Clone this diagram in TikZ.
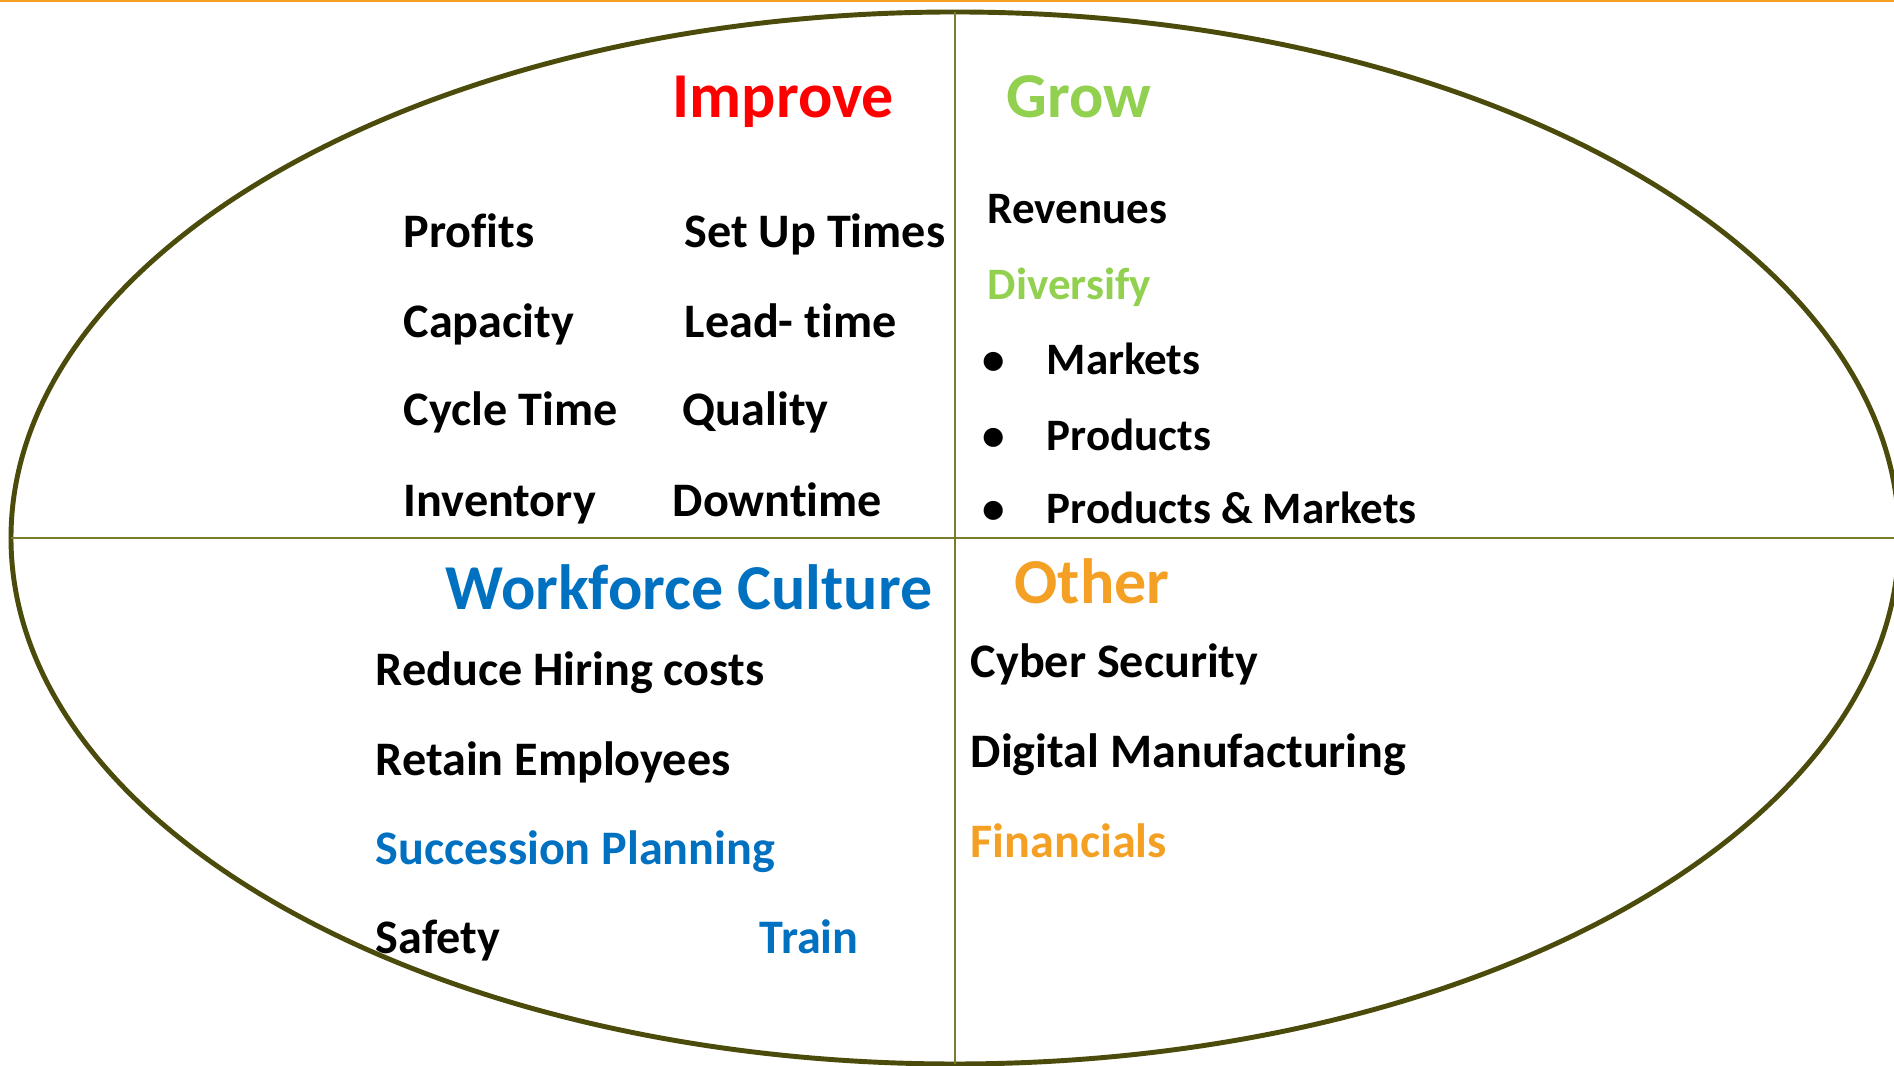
\documentclass[tikz,border=0pt]{standalone}
\usepackage{fontspec}
\setmainfont{Carlito}[Ligatures={NoCommon,NoContextual,NoRequired}]
\usetikzlibrary{shapes.geometric}

\definecolor{olivedark}{HTML}{4B4B0B}
\definecolor{oliveline}{HTML}{7B7B2E}
\definecolor{improvered}{HTML}{FF0000}
\definecolor{growgreen}{HTML}{92D050}
\definecolor{cultureblue}{HTML}{0070C0}
\definecolor{otherorange}{HTML}{F4A024}

\tikzset{
    heading/.style={font=\fontsize{18.2}{22}\selectfont\bfseries, anchor=base west, inner sep=0pt},
    entry/.style={font=\fontsize{13.7}{16}\selectfont\bfseries, anchor=base west, inner sep=0pt},
    smallentry/.style={entry, font=\fontsize{12.8}{15}\selectfont\bfseries},
    divider/.style={oliveline, line width=0.6pt}
}

\begin{document}
\begin{tikzpicture}
        \clip (0,0) rectangle (18.94,10.66);
        \fill[white] (0,0) rectangle (18.94,10.66);

        % Draw the orange rule along the top edge
        \draw[otherorange, line width=0.7pt] (0,10.65) -- (18.94,10.65);

        % Draw the outer ellipse
        \node[ellipse, draw=olivedark, line width=1.4pt, minimum width=18.88cm,
              minimum height=10.52cm, inner sep=0pt, outer sep=0pt] (oval) at (9.55,5.28) {};

        % Draw the quadrant dividers
        \draw[divider] (oval.north) -- (oval.south);
        \draw[divider] (oval.west) -- (oval.east);

        % Improve quadrant
        \node[heading, improvered] (improve) at (6.72,9.48) {Improve};
        \node[entry] (profits) at (4.03,8.18) {Profits};
        \node[entry] (capacity) at (4.03,7.28) {Capacity};
        \node[entry] (cycletime) at (4.03,6.40) {Cycle Time};
        \node[entry] (inventory) at (4.03,5.49) {Inventory};
        \node[entry] (setup) at (6.84,8.18) {Set Up Times};
        \node[entry] (leadtime) at (6.84,7.28) {Lead- time};
        \node[entry] (quality) at (6.82,6.40) {Quality};
        \node[entry] (downtime) at (6.72,5.49) {Downtime};

        % Grow quadrant
        \node[heading, growgreen] (grow) at (10.06,9.48) {Grow};
        \node[smallentry] (revenues) at (9.87,8.42) {Revenues};
        \node[smallentry, growgreen] (diversify) at (9.87,7.66) {Diversify};
        \node[smallentry, anchor=base] (bulleta) at (9.94,6.91) {•};
        \node[smallentry] (markets) at (10.46,6.91) {Markets};
        \node[smallentry, anchor=base] (bulletb) at (9.94,6.15) {•};
        \node[smallentry] (products) at (10.46,6.15) {Products};
        \node[smallentry, anchor=base] (bulletc) at (9.94,5.42) {•};
        \node[smallentry] (prodmarkets) at (10.46,5.42) {Products \& Markets};

        % Workforce Culture quadrant
        \node[heading, cultureblue] (culture) at (4.45,4.56) {Workforce Culture};
        \node[entry] (hiring) at (3.75,3.80) {Reduce Hiring costs};
        \node[entry] (retain) at (3.75,2.90) {Retain Employees};
        \node[entry, cultureblue] (succession) at (3.75,2.01) {Succession Planning};
        \node[entry] (safety) at (3.75,1.12) {Safety};
        \node[entry, cultureblue] (train) at (7.59,1.12) {Train};

        % Other quadrant
        \node[heading, otherorange] (other) at (10.14,4.62) {Other};
        \node[entry] (cyber) at (9.70,3.88) {Cyber Security};
        \node[entry] (digital) at (9.70,2.98) {Digital Manufacturing};
        \node[entry, otherorange] (financials) at (9.70,2.08) {Financials};
\end{tikzpicture}
\end{document}
